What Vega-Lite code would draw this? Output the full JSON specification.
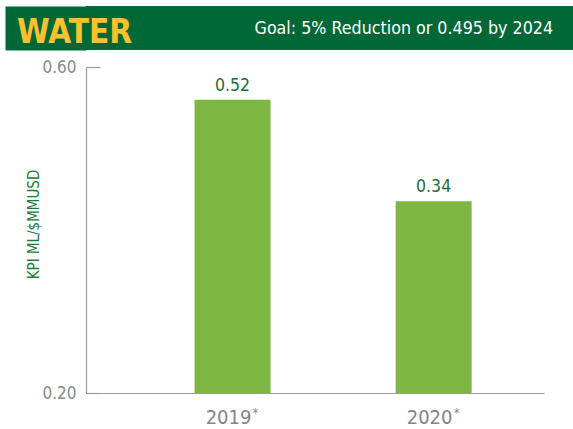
{
  "$schema": "https://vega.github.io/schema/vega-lite/v6.json",
  "background": "white",
  "padding": {"left": 17, "top": 6, "right": 0, "bottom": 0},
  "spacing": 8,
  "vconcat": [
    {
      "width": 487,
      "height": 44,
      "view": {"fill": "#006837", "stroke": null},
      "encoding": {
        "y": {
          "datum": 0,
          "type": "quantitative",
          "scale": {"domain": [-1, 1], "nice": false},
          "axis": {"title": null, "labels": false, "ticks": false, "grid": false, "domain": true, "domainColor": "#006837", "domainWidth": 81, "domainCap": "butt", "offset": 40.5}
        }
      },
      "layer": [
        {
          "data": {"values": [{"label": "WATER"}]},
          "mark": {"type": "text", "align": "left", "baseline": "alphabetic", "dx": -69, "dy": 15, "font": "DejaVu Sans Condensed, sans-serif", "fontWeight": "bold", "fontSize": 33, "color": "#fcc12d"},
          "encoding": {
            "x": {"datum": 0, "type": "quantitative", "scale": {"domain": [0, 1], "nice": false}, "axis": null},
            "text": {"field": "label"}
          }
        },
        {
          "data": {"values": [{"label": "Goal: 5% Reduction or 0.495 by 2024"}]},
          "mark": {"type": "text", "align": "right", "baseline": "alphabetic", "dx": -20, "dy": 6, "font": "DejaVu Sans Condensed, sans-serif", "fontSize": 17.7, "color": "#ffffff"},
          "encoding": {
            "x": {"datum": 1, "type": "quantitative", "axis": null},
            "text": {"field": "label"}
          }
        }
      ]
    },
    {
      "width": 458,
      "height": 326,
      "view": {"stroke": null},
      "data": {"values": [{"year": "2019", "value": 0.52}, {"year": "2020", "value": 0.34}]},
      "encoding": {
        "x": {
          "field": "year",
          "type": "nominal",
          "scale": {"paddingInner": 0.622, "paddingOuter": 0.45, "align": 0.6},
          "axis": {
            "title": null,
            "labelAngle": 0,
            "ticks": false,
            "domainColor": "#9a9a9a",
            "domainWidth": 1.2,
            "labelFont": "DejaVu Sans Condensed, sans-serif",
            "labelFontSize": 20,
            "labelColor": "#858585",
            "labelPadding": 14,
            "labelOffset": -4
          }
        }
      },
      "layer": [
        {
          "mark": {"type": "bar", "color": "#7db643"},
          "encoding": {
            "y": {
              "field": "value",
              "type": "quantitative",
              "scale": {"domain": [0, 0.578], "nice": false, "zero": true},
              "axis": {
                "title": "KPI ML/$MMUSD",
                "titleFont": "DejaVu Sans Condensed, sans-serif",
                "titleFontSize": 15,
                "titleFontWeight": "normal",
                "titleColor": "#1e7b3c",
                "titleBaseline": "alphabetic",
                "titleAlign": "center",
                "titleAngle": -90,
                "titleX": -48,
                "titleY": 157,
                "values": [0, 0.578],
                "labelExpr": "datum.value < 0.1 ? '0.20' : '0.60'",
                "labelFlush": false,
                "labelOverlap": false,
                "grid": false,
                "tickSize": -14,
                "tickColor": "#9a9a9a",
                "tickWidth": 1.2,
                "domainColor": "#9a9a9a",
                "domainWidth": 1.2,
                "labelPadding": 24,
                "labelFont": "DejaVu Sans Condensed, sans-serif",
                "labelFontSize": 17,
                "labelColor": "#8a8a8a"
              }
            }
          }
        },
        {
          "mark": {"type": "text", "baseline": "alphabetic", "dy": -9, "font": "DejaVu Sans Condensed, sans-serif", "fontSize": 17.5, "color": "#1f6b3f"},
          "encoding": {
            "y": {"field": "value", "type": "quantitative"},
            "text": {"field": "value", "type": "quantitative", "format": ".2f"}
          }
        },
        {
          "mark": {"type": "text", "text": "*", "baseline": "middle", "dx": 23, "dy": 20, "font": "DejaVu Sans Condensed, sans-serif", "fontSize": 12, "color": "#858585"},
          "encoding": {
            "y": {"datum": 0, "type": "quantitative"}
          }
        }
      ]
    }
  ]
}
